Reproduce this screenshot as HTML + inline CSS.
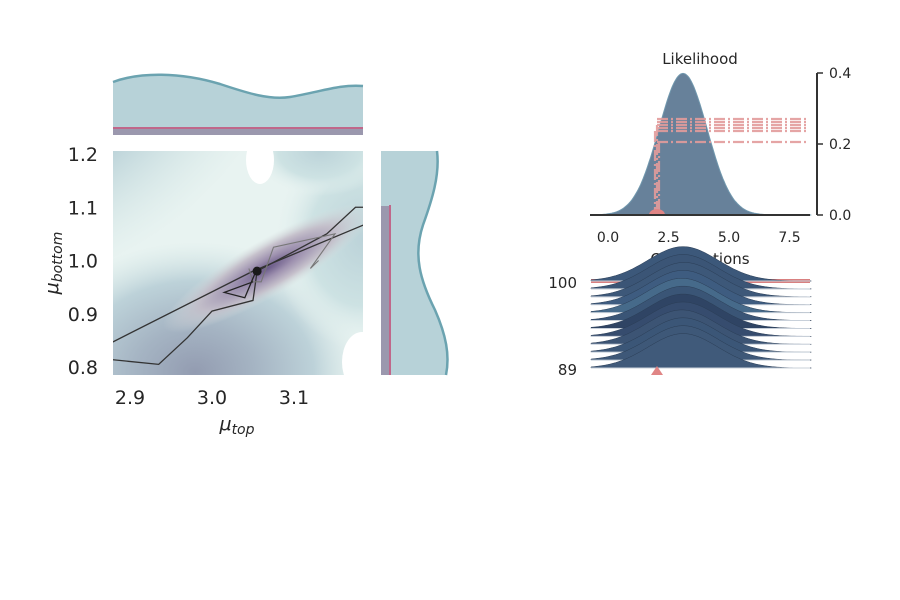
<!DOCTYPE html>
<html><head><meta charset="utf-8"><style>
body{margin:0;background:#fff;}
svg{display:block;font-family:"DejaVu Sans","Liberation Sans",sans-serif;}
</style></head><body>
<svg id="fig" width="900" height="600" viewBox="0 0 900 600">
<defs>
<clipPath id="mainclip"><rect x="113" y="151" width="250" height="224"/></clipPath>
<radialGradient id="gTL" cx="0" cy="0" r="1"><stop offset="0" stop-color="#8a93a8"/><stop offset="0.35" stop-color="#9fb0c0"/><stop offset="0.7" stop-color="#bcd3d9"/><stop offset="1" stop-color="#d5e7e6" stop-opacity="0"/></radialGradient>
<radialGradient id="gBL" cx="0.5" cy="0.5" r="0.5"><stop offset="0" stop-color="#939cb1"/><stop offset="0.35" stop-color="#a5b4c3"/><stop offset="0.7" stop-color="#bdd2d9"/><stop offset="1" stop-color="#d5e7e6" stop-opacity="0"/></radialGradient>
<radialGradient id="gR" cx="0.5" cy="0.5" r="0.5"><stop offset="0" stop-color="#bcd3d9"/><stop offset="0.6" stop-color="#cde2e3"/><stop offset="1" stop-color="#e8f3f1" stop-opacity="0"/></radialGradient>
<radialGradient id="gP" cx="0.5" cy="0.5" r="0.5"><stop offset="0" stop-color="#5e4b7e"/><stop offset="0.3" stop-color="#9686a8"/><stop offset="0.65" stop-color="#c3bcc8"/><stop offset="1" stop-color="#d8dfdf" stop-opacity="0"/></radialGradient>
</defs>

<g>
<path d="M113,82 C140,72 180,72 220,84 C250,94 270,100 290,97 C320,92 340,84 363,86 L363,135 L113,135 Z" fill="#b7d2d8"/>
<path d="M113,82 C140,72 180,72 220,84 C250,94 270,100 290,97 C320,92 340,84 363,86" fill="none" stroke="#6ba3b0" stroke-width="2.5"/>
<rect x="113" y="127" width="250" height="8" fill="#9b98ae"/>
<rect x="113" y="127" width="250" height="2" fill="#c0678a"/>
</g>

<g clip-path="url(#mainclip)">
<rect x="113" y="151" width="250" height="224" fill="#e8f3f1"/>
<ellipse cx="113" cy="151" rx="180" ry="150" fill="url(#gTL)"/>
<ellipse cx="195" cy="372" rx="170" ry="130" fill="url(#gBL)"/>
<ellipse cx="363" cy="240" rx="90" ry="110" fill="url(#gR)"/>
<ellipse cx="320" cy="151" rx="70" ry="45" fill="url(#gR)"/>
<ellipse cx="260" cy="160" rx="14" ry="24" fill="#fff"/>
<ellipse cx="362" cy="362" rx="20" ry="30" fill="#fff"/>
<ellipse cx="268" cy="268" rx="120" ry="28" transform="rotate(-30 268 268)" fill="url(#gP)" opacity="0.9"/>
<g id="traces"></g>
<circle id="mapPt" r="4.5" fill="#1a1a1a"/>
</g>

<g>
<path d="M381,151 L437,151 C440,175 432,200 423,225 C413,255 420,280 435,310 C446,335 450,355 446,375 L381,375 Z" fill="#b7d2d8"/>
<path d="M437,151 C440,175 432,200 423,225 C413,255 420,280 435,310 C446,335 450,355 446,375" fill="none" stroke="#6ba3b0" stroke-width="2.5"/>
<rect x="381" y="206" width="10" height="169" fill="#9b98ae"/>
<rect x="389" y="205" width="2" height="170" fill="#c0678a"/>
</g>

<g id="mainTicks" font-size="19" fill="#262626"></g>
<text x="237" y="430" font-size="19" text-anchor="middle" fill="#262626" font-style="italic">μ<tspan font-size="14" dy="4">top</tspan></text>
<text transform="translate(58,263) rotate(-90)" font-size="19" text-anchor="middle" fill="#262626" font-style="italic">μ<tspan font-size="14" dy="4">bottom</tspan></text>

<g>
<text x="700" y="64" font-size="15" text-anchor="middle" fill="#262626">Likelihood</text>
<path id="likePath" fill="#5f7b95" stroke="#6a93aa" stroke-width="1" opacity="0.95"/>
<g stroke="#e39c9c" stroke-width="2.2" fill="none" stroke-dasharray="11,3,2,3" opacity="0.9">
<line x1="657" y1="119" x2="808" y2="119"/><line x1="657" y1="122" x2="808" y2="122"/><line x1="657" y1="125" x2="808" y2="125"/><line x1="657" y1="128" x2="808" y2="128"/><line x1="657" y1="131" x2="808" y2="131"/>
<line x1="657" y1="142" x2="808" y2="142"/>
<line x1="655" y1="131" x2="655" y2="214"/><line x1="657" y1="125" x2="657" y2="214"/><line x1="659" y1="142" x2="659" y2="214"/>
</g>
<path d="M649,215 A8,6 0 0 1 665,215 Z" fill="#e08585"/>
<line x1="590" y1="215" x2="810" y2="215" stroke="#333" stroke-width="2"/>
<line x1="817" y1="73" x2="817" y2="215" stroke="#333" stroke-width="2"/>
<g id="likeTicks" font-size="14" fill="#262626"></g>
<text x="700" y="264" font-size="15" text-anchor="middle" fill="#262626">Observations</text>
</g>

<g id="ridges"></g>
<path d="M651,375 L657,366 L663,375 Z" fill="#e08585"/>
<text x="577" y="288" font-size="15" text-anchor="end" fill="#262626">100</text>
<text x="577" y="375" font-size="15" text-anchor="end" fill="#262626">89</text>
</svg>
<script>
const traceA = [[2.87,0.815],[2.935,0.805],[2.97,0.855],[3.0,0.905],[3.05,0.925],[3.055,0.98],[3.14,1.05],[3.175,1.10],[3.19,1.10]];
const traceB = [[2.87,0.84],[3.05,0.98],[3.19,1.07]];
const traceC = [[3.045,0.985],[3.05,0.96],[3.06,0.96],[3.075,1.025],[3.15,1.05],[3.12,0.985],[3.13,1.0]];
const traceD = [[3.055,0.985],[3.04,0.93],[3.015,0.94],[3.05,0.96]];
const mapPoint = [3.055,0.98];
const xTicks = [2.9,3.0,3.1];
const yTicks = [0.8,0.9,1.0,1.1,1.2];
const likeXTicks = [0.0,2.5,5.0,7.5];
const likeYTicks = [0.0,0.2,0.4];
const likeMean = 3.1, likeSd = 1.0;
const ridgeRows = 12;
const ridgeMeans = [3.1,3.1,3.1,3.05,3.1,3.1,3.1,3.05,3.1,3.15,3.1,3.1];
const ridgeColors = ["#405a7a","#3e5878","#3b5677","#3c5474","#364c6e","#2f4464","#3a5576","#466a8a","#3e5c80","#3d5879","#3b5576","#3c587a"];

const NS='http://www.w3.org/2000/svg';
const sx = v => 212 + (v-3.0)*820;
const sy = v => 260.5 - (v-1.0)*532.5;
const lx = v => 608 + v*24.2;
const ly = v => 215 - v*355;
function mk(tag, attrs, parent){const e=document.createElementNS(NS,tag);for(const k in attrs)e.setAttribute(k,attrs[k]);parent.appendChild(e);return e;}

const tg=document.getElementById('traces');
[[traceA,'#333',1.3],[traceB,'#333',1.3],[traceC,'#777',1.1],[traceD,'#222',1.3]].forEach(([t,c,w],i)=>{
  const p=mk('polyline',{points:t.map(d=>sx(d[0])+','+sy(d[1])).join(' '),fill:'none',stroke:c,'stroke-width':w},tg);
  
  
});
const mp=document.getElementById('mapPt');mp.setAttribute('cx',sx(mapPoint[0]));mp.setAttribute('cy',sy(mapPoint[1]));

const mt=document.getElementById('mainTicks');
xTicks.forEach(v=>{const t=mk('text',{x:sx(v),y:404,'text-anchor':'middle'},mt);t.textContent=v.toFixed(1);
});
yTicks.forEach(v=>{const t=mk('text',{x:98,y:sy(v)+7,'text-anchor':'end'},mt);t.textContent=v.toFixed(1);
});

const pdf=(x,m,s)=>Math.exp(-0.5*((x-m)/s)**2)/(s*Math.sqrt(2*Math.PI));
let d='M'+lx(-0.7)+','+ly(0);
for(let x=-0.7;x<=8.4;x+=0.05)d+=' L'+lx(x).toFixed(1)+','+ly(pdf(x,likeMean,likeSd)).toFixed(1);
d+=' L'+lx(8.4)+','+ly(0)+' Z';
document.getElementById('likePath').setAttribute('d',d);
const lt=document.getElementById('likeTicks');
likeXTicks.forEach(v=>{const t=mk('text',{x:lx(v),y:242,'text-anchor':'middle'},lt);t.textContent=v.toFixed(1);
});
likeYTicks.forEach(v=>{mk('line',{x1:817,x2:823,y1:ly(v),y2:ly(v),stroke:'#333','stroke-width':1.5},lt);
const t=mk('text',{x:829,y:ly(v)+5},lt);t.textContent=v.toFixed(1);
});

const rg=document.getElementById('ridges');
const base0=368, step=(368-281)/(ridgeRows-1);
mk('rect',{x:591,y:279,width:219,height:4,fill:'#d98080'},rg);
for(let i=ridgeRows-1;i>=0;i--){
  const b=base0-i*step;
  let p='M591,'+b;
  for(let x=-0.7;x<=8.4;x+=0.1)p+=' L'+lx(x).toFixed(1)+','+(b-pdf(x,ridgeMeans[i],1.45)*125).toFixed(1);
  p+=' L810,'+b+' Z';
  const e=mk('path',{d:p,fill:ridgeColors[i],stroke:'#2a3d55','stroke-width':0.5},rg);
  
  
  mk('line',{x1:591,x2:810,y1:b,y2:b,stroke:'#c8d0da','stroke-width':1},rg);
}
</script>
</body></html>
